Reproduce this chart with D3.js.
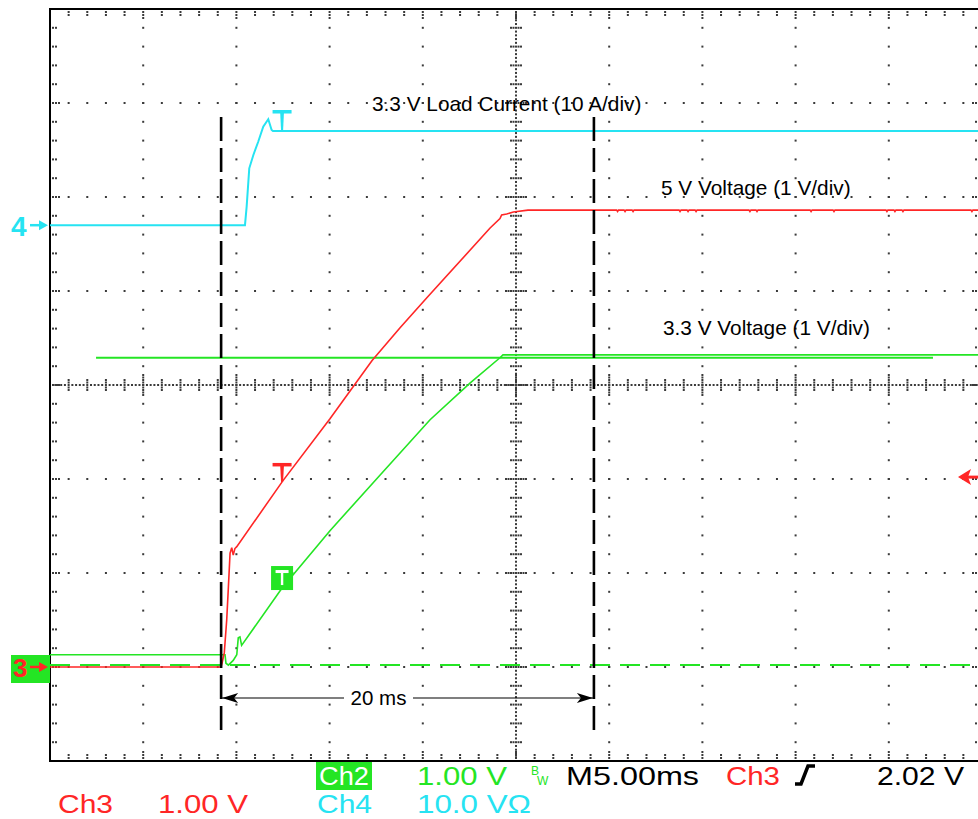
<!DOCTYPE html>
<html>
<head>
<meta charset="utf-8">
<script src="https://cdn.jsdelivr.net/npm/d3@7"></script>
<style>
  html, body { margin: 0; padding: 0; background: #fff; }
  svg { display: block; }
</style>
</head>
<body>
<svg id="scope" width="978" height="819"></svg>
<script>
// ---- Acquisition settings ----
const msPerDiv = 5;          // horizontal: M5.00ms
const divsX = 10, divsY = 8;
const ch2VoltsPerDiv = 1;    // 3.3 V rail
const ch3VoltsPerDiv = 1;    // 5 V rail
const ch4AmpsPerDiv = 10;    // 3.3 V load current
const ch2GroundDiv = -3;
const ch3GroundDiv = -3;
const ch4GroundDiv = 1.7;
const triggerLevel = 2.02;   // Ch3, volts
const triggerTime = 12.45;   // ms from left edge
const cursorTimes = [9.18, 29.18]; // ms
const cursorLabel = "20 ms";

// ---- Ch3 : 5 V voltage (ms, V) ----
const ch3Time = [0, 9.17, 9.23, 9.35, 9.48, 9.57, 9.66, 9.75, 9.83, 9.92, 10.02, 12.49, 15.02, 17.28,
  18.78, 20.23, 23.61, 24.14, 24.23, 24.5, 24.86, 25.64,
  30.4, 30.45, 30.5, 30.8, 30.85, 30.9, 31.23, 31.28, 31.33,
  33.75, 33.8, 33.85, 34.18, 34.23, 34.28, 34.61, 34.66, 34.71,
  37.5, 37.55, 37.6, 37.88, 37.93, 37.98, 40.78, 40.83, 40.88, 42.01, 42.06, 42.11,
  44.85, 44.9, 44.95, 45.28, 45.33, 45.38, 45.71, 45.76, 45.81, 49.41, 49.46, 49.51, 50];
const ch3Volts = [0, 0, 0.04, 0.15, 0.50, 0.85, 1.21, 1.27, 1.19, 1.26, 1.28, 1.98, 2.64, 3.26,
  3.61, 3.93, 4.67, 4.77, 4.81, 4.82, 4.84, 4.86,
  4.86, 4.845, 4.86, 4.86, 4.845, 4.86, 4.86, 4.845, 4.86,
  4.86, 4.845, 4.86, 4.86, 4.845, 4.86, 4.86, 4.845, 4.86,
  4.86, 4.845, 4.86, 4.86, 4.845, 4.86, 4.86, 4.845, 4.86, 4.86, 4.845, 4.86,
  4.86, 4.845, 4.86, 4.86, 4.845, 4.86, 4.86, 4.845, 4.86, 4.86, 4.845, 4.86, 4.86];

// ---- Ch2 : 3.3 V voltage (ms, V) ----
const ch2Time = [0, 9.39, 9.44, 9.57, 9.83, 10.02, 10.1, 10.19, 10.28, 12.45, 15.02, 17.70, 20.39,
  22.53, 24.14, 24.3, 50];
const ch2Volts = [0.13, 0.13, 0.04, 0.02, 0.07, 0.13, 0.31, 0.32, 0.23, 0.84, 1.45, 2.04, 2.63,
  3.02, 3.29, 3.32, 3.32];
// Ch2 reference trace (settled level) and ground reference
const ch2RefTime = [2.47, 47.37];
const ch2RefVolts = [3.29, 3.29];
const ch2ZeroTime = [0, 50];
const ch2ZeroVolts = [0.02, 0.02];

// ---- Ch4 : 3.3 V load current (ms, A) ----
const ch4Time = [0, 10.46, 10.55, 10.69, 10.91, 11.17, 11.44, 11.71, 11.89, 11.96, 50];
const ch4Amps = [0, 0, 1.97, 6.05, 7.47, 8.88, 10.48, 11.27, 10.13, 10.02, 10.02];

// ---- Annotations ----
const traceLabels = ["3.3 V Load Current (10 A/div)", "5 V Voltage (1 V/div)", "3.3 V Voltage (1 V/div)"];

const RED = "#ff2626", GREEN = "#24e524", CYAN = "#26e3f2", DOT = "#3a3a3a";
const FONT = "'Liberation Sans', Arial, Helvetica, sans-serif";

const svg = d3.select("#scope");
const x = d3.scaleLinear().domain([0, msPerDiv * divsX]).range([50, 982]);
const yDiv = d3.scaleLinear().domain([-divsY / 2, divsY / 2]).range([761, 9]);
const xd = d => x(d * msPerDiv);           // horizontal division -> px
const y2 = v => yDiv(ch2GroundDiv + v / ch2VoltsPerDiv);
const y3 = v => yDiv(ch3GroundDiv + v / ch3VoltsPerDiv);
const y4 = a => yDiv(ch4GroundDiv + a / ch4AmpsPerDiv);

// ---- Graticule ----
const grid = svg.append("g");
const dots = [];
const addDot = (px, py) => dots.push([px, py]);
for (let i = 1; i < divsX; i++) {
  if (i === divsX / 2) continue;
  for (let k = 1; k < divsY * 5; k++) addDot(xd(i), yDiv(-4 + k / 5));
}
for (let j = 1; j < divsY; j++) {
  if (j === divsY / 2) continue;
  for (let k = 1; k < divsX * 5; k++) addDot(xd(k / 5), yDiv(-4 + j));
}
// centre cross: fine dotting plus ticks at every minor division
const cx = xd(divsX / 2), cy = yDiv(0);
for (let k = 1; k < divsX * 25; k++) addDot(xd(k / 25), cy);
for (let k = 1; k < divsY * 25; k++) addDot(cx, yDiv(-4 + k / 25));
for (let k = 1; k < divsX * 5; k++) {
  const reach = k % 5 === 0 ? 4 : 2;
  for (let s = 1; s <= reach; s++) { addDot(xd(k / 5), cy - s * 2.5); addDot(xd(k / 5), cy + s * 2.5); }
}
for (let k = 1; k < divsY * 5; k++) {
  const reach = k % 5 === 0 ? 4 : 2;
  for (let s = 1; s <= reach; s++) { addDot(cx - s * 2.5, yDiv(-4 + k / 5)); addDot(cx + s * 2.5, yDiv(-4 + k / 5)); }
}
// border ticks
for (let k = 1; k < divsY * 5; k++) {
  const n = k % 5 === 0 ? 3 : 2, py = yDiv(-4 + k / 5);
  for (let s = 1; s <= n; s++) { addDot(50 + s * 3, py); addDot(982 - s * 3, py); }
}
for (let k = 1; k < divsX * 5; k++) {
  const n = k % 5 === 0 ? 3 : 2, px = xd(k / 5);
  for (let s = 1; s <= n; s++) { addDot(px, 9 + s * 3); addDot(px, 761 - s * 3); }
}
grid.selectAll("rect").data(dots).join("rect")
  .attr("x", d => d[0] - 1).attr("y", d => d[1] - 1)
  .attr("width", 2).attr("height", 2).attr("fill", DOT);

// frame
svg.append("rect").attr("x", 50).attr("y", 9).attr("width", 932).attr("height", 752)
  .attr("fill", "none").attr("stroke", "#000").attr("stroke-width", 2);

// ---- Traces ----
const line = (fx, fy) => d3.line().x(d => x(d[0])).y(d => fy(d[1]));
const zip = (a, b) => a.map((t, i) => [t, b[i]]);

svg.append("path").datum(zip(ch2ZeroTime, ch2ZeroVolts))
  .attr("d", line(x, y2)).attr("fill", "none").attr("stroke", GREEN)
  .attr("stroke-width", 2).attr("stroke-dasharray", "20 10");
svg.append("path").datum(zip(ch2RefTime, ch2RefVolts))
  .attr("d", line(x, y2)).attr("fill", "none").attr("stroke", GREEN).attr("stroke-width", 2.2);
svg.append("path").datum(zip(ch2Time, ch2Volts))
  .attr("d", line(x, y2)).attr("fill", "none").attr("stroke", GREEN).attr("stroke-width", 1.6);
svg.append("path").datum(zip(ch3Time, ch3Volts))
  .attr("d", line(x, y3)).attr("fill", "none").attr("stroke", RED).attr("stroke-width", 1.6);
svg.append("path").datum(zip(ch4Time, ch4Amps))
  .attr("d", line(x, y4)).attr("fill", "none").attr("stroke", CYAN).attr("stroke-width", 2);

// ---- Trigger markers (T) on each trace ----
const at = (ts, vs, t) => d3.scaleLinear().domain(ts).range(vs)(t);
const tx = x(triggerTime);
function tMarker(yBottom, color, height) {
  const g = svg.append("g");
  g.append("rect").attr("x", tx - 9.5).attr("y", yBottom - height).attr("width", 19).attr("height", 3.5).attr("fill", color);
  g.append("path").attr("d", `M${tx - 2},${yBottom - height} L${tx + 2},${yBottom - height} L${tx + 1},${yBottom} L${tx - 1},${yBottom} Z`).attr("fill", color);
}
tMarker(y4(at(ch4Time, ch4Amps, triggerTime)), CYAN, 21);
tMarker(y3(at(ch3Time, ch3Volts, triggerTime)), RED, 19);
{
  const yb = y2(at(ch2Time, ch2Volts, triggerTime)) + 2;
  svg.append("rect").attr("x", tx - 11).attr("y", yb - 24).attr("width", 22).attr("height", 24).attr("fill", GREEN);
  svg.append("rect").attr("x", tx - 6.5).attr("y", yb - 20).attr("width", 13).attr("height", 3).attr("fill", "#fff");
  svg.append("rect").attr("x", tx - 1.2).attr("y", yb - 20).attr("width", 2.4).attr("height", 15).attr("fill", "#fff");
}

// ---- Cursors ----
cursorTimes.forEach(t => {
  svg.append("line").attr("x1", x(t)).attr("x2", x(t)).attr("y1", 117).attr("y2", 736)
    .attr("stroke", "#000").attr("stroke-width", 2.6).attr("stroke-dasharray", "24 7");
});
const ay = 698, ax1 = x(cursorTimes[0]), ax2 = x(cursorTimes[1]);
svg.append("line").attr("x1", ax1).attr("x2", ax2).attr("y1", ay).attr("y2", ay).attr("stroke", "#000").attr("stroke-width", 1.2);
svg.append("path").attr("d", `M${ax1 + 1},${ay} L${ax1 + 17},${ay - 5} L${ax1 + 13},${ay} L${ax1 + 17},${ay + 5} Z`).attr("fill", "#000");
svg.append("path").attr("d", `M${ax2 - 1},${ay} L${ax2 - 17},${ay - 5} L${ax2 - 13},${ay} L${ax2 - 17},${ay + 5} Z`).attr("fill", "#000");
svg.append("rect").attr("x", 344).attr("y", ay - 9).attr("width", 69).attr("height", 18).attr("fill", "#fff");
svg.append("text").attr("x", 378.5).attr("y", ay + 7).attr("text-anchor", "middle")
  .attr("font-family", FONT).attr("font-size", 20.5).attr("fill", "#000").text(cursorLabel);

// ---- Trace annotations ----
const notes = [[372, 111, traceLabels[0]], [661, 194.5, traceLabels[1]], [663, 334.5, traceLabels[2]]];
svg.selectAll("text.note").data(notes).join("text").attr("class", "note")
  .attr("x", d => d[0]).attr("y", d => d[1]).attr("font-family", FONT).attr("font-size", 20.8)
  .attr("fill", "#000").text(d => d[2]);

// ---- Ground / level indicators ----
svg.append("text").attr("x", 11).attr("y", y4(0) + 10.5).attr("font-family", FONT).attr("font-size", 28)
  .attr("font-weight", "bold").attr("fill", CYAN).text("4");
svg.append("path").attr("d", `M30,${y4(0)} L40,${y4(0)}`).attr("stroke", CYAN).attr("stroke-width", 2.5);
svg.append("path").attr("d", `M48,${y4(0)} L39,${y4(0) - 5} L39,${y4(0) + 5} Z`).attr("fill", CYAN);

svg.append("rect").attr("x", 11).attr("y", 655).attr("width", 39).attr("height", 28).attr("fill", GREEN);
svg.append("text").attr("x", 13).attr("y", y3(0) + 10).attr("font-family", FONT).attr("font-size", 26)
  .attr("font-weight", "bold").attr("fill", RED).text("3");
svg.append("path").attr("d", `M30,${y3(0)} L40,${y3(0)}`).attr("stroke", RED).attr("stroke-width", 2.5);
svg.append("path").attr("d", `M48,${y3(0)} L39,${y3(0) - 5} L39,${y3(0) + 5} Z`).attr("fill", RED);

const ty = y3(triggerLevel);
svg.append("path").attr("d", `M958,${ty} L971,${ty - 8} L968,${ty} L971,${ty + 8} Z`).attr("fill", RED);
svg.append("path").attr("d", `M964,${ty} L978,${ty}`).attr("stroke", RED).attr("stroke-width", 3);

// ---- Status readout ----
svg.append("rect").attr("x", 316).attr("y", 762).attr("width", 56).attr("height", 28).attr("fill", GREEN);
const status = [
  [319, 785, 50, "#fff", "Ch2"],
  [417, 785, 90, GREEN, "1.00 V"],
  [566, 785, 133, "#000", "M5.00ms"],
  [726, 785, 54, RED, "Ch3"],
  [877, 785, 87, "#000", "2.02 V"],
  [58, 813, 55, RED, "Ch3"],
  [158, 813, 90, RED, "1.00 V"],
  [317, 813, 55, CYAN, "Ch4"],
  [417, 813, 114, CYAN, "10.0 V\u03A9"]
];
svg.selectAll("text.status").data(status).join("text").attr("class", "status")
  .attr("x", d => d[0]).attr("y", d => d[1]).attr("textLength", d => d[2])
  .attr("lengthAdjust", "spacingAndGlyphs").attr("font-family", FONT).attr("font-size", 25)
  .attr("fill", d => d[3]).text(d => d[4]);
svg.append("text").attr("x", 531).attr("y", 775).attr("font-family", FONT).attr("font-size", 12).attr("fill", GREEN).text("B");
svg.append("text").attr("x", 537).attr("y", 785).attr("font-family", FONT).attr("font-size", 12).attr("fill", GREEN).text("W");
// rising-edge trigger slope symbol
svg.append("path").attr("d", "M795,784 L801,784 L808,766 L815,766").attr("fill", "none")
  .attr("stroke", "#000").attr("stroke-width", 3.5);
</script>
</body>
</html>
